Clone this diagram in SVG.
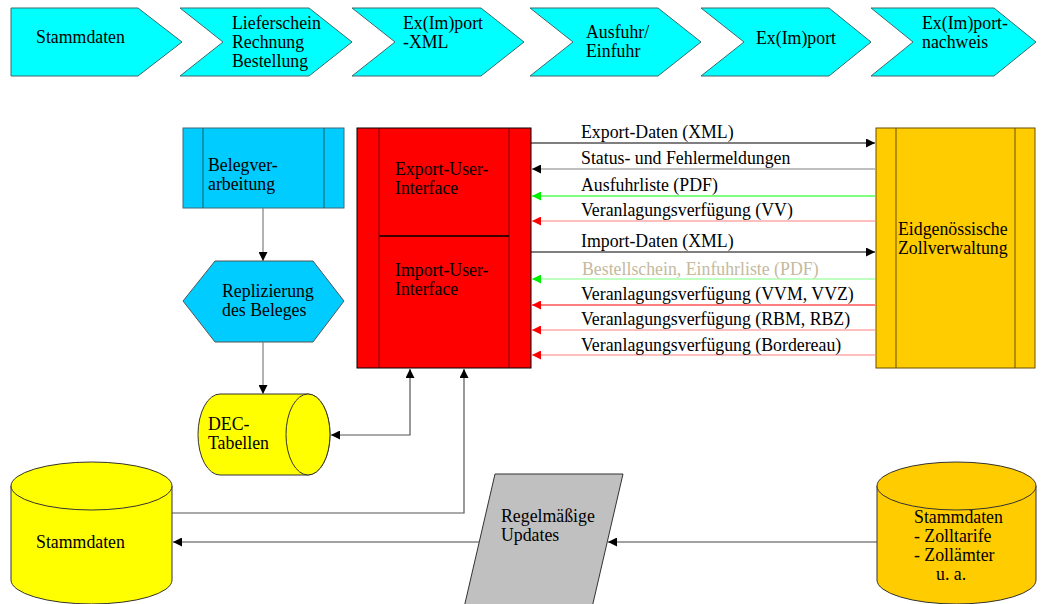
<svg xmlns="http://www.w3.org/2000/svg" width="1044" height="604" viewBox="0 0 1044 604" font-family="'Liberation Serif', 'DejaVu Serif', serif">
<style>
text{font-family:'Liberation Serif','DejaVu Serif',serif;font-size:17.8px;fill:#000}
.chev{fill:#00FFFF;stroke:#3a6a6a;stroke-width:1}
.ln{fill:none;stroke-width:1.2}
</style>
<defs>
<marker id="ab" viewBox="0 0 10 10" refX="10" refY="5" markerWidth="9" markerHeight="9" markerUnits="userSpaceOnUse" orient="auto-start-reverse"><path d="M0,0 L10,5 L0,10 Z" fill="#000"/></marker>
<marker id="ar" viewBox="0 0 10 10" refX="10" refY="5" markerWidth="9" markerHeight="9" markerUnits="userSpaceOnUse" orient="auto"><path d="M0,0 L10,5 L0,10 Z" fill="#FF0000"/></marker>
<marker id="ag" viewBox="0 0 10 10" refX="10" refY="5" markerWidth="9" markerHeight="9" markerUnits="userSpaceOnUse" orient="auto"><path d="M0,0 L10,5 L0,10 Z" fill="#00EE00"/></marker>
</defs>
<rect width="1044" height="604" fill="#fff"/>

<g id="chev1"><polygon class="chev" points="11,8 138,8 182,42 138,76 11,76"/><text x="36" y="43">Stammdaten</text></g>
<g id="chev2"><polygon class="chev" points="180,8 309,8 352,42 309,76 180,76 223,42"/><text x="232" y="29">Lieferschein</text><text x="232" y="48">Rechnung</text><text x="232" y="67">Bestellung</text></g>
<g id="chev3"><polygon class="chev" points="352,8 481,8 524,42 481,76 352,76 395,42"/><text x="403" y="29">Ex(Im)port</text><text x="403" y="48">-XML</text></g>
<g id="chev4"><polygon class="chev" points="530,8 658,8 701,42 658,76 530,76 573,42"/><text x="586" y="38">Ausfuhr/</text><text x="586" y="57">Einfuhr</text></g>
<g id="chev5"><polygon class="chev" points="701,8 829,8 871,42 829,76 701,76 744,42"/><text x="756" y="44">Ex(Im)port</text></g>
<g id="chev6"><polygon class="chev" points="871,8 994,8 1036,42 994,76 871,76 913,42"/><text x="922" y="29">Ex(Im)port-</text><text x="922" y="48">nachweis</text></g>

<g id="beleg"><rect x="183" y="128" width="161" height="80" fill="#00CCFF" stroke="#3d6a7a"/><line x1="203" y1="128" x2="203" y2="208" stroke="#1f5a6a"/><line x1="324" y1="128" x2="324" y2="208" stroke="#1f5a6a"/><text x="208" y="171">Belegver-</text><text x="208" y="190">arbeitung</text></g>

<g id="repl"><polygon points="183,301 215,261 313,261 344,301 313,342 215,342" fill="#00CCFF" stroke="#555"/><text x="222" y="297">Replizierung</text><text x="222" y="316">des Beleges</text></g>

<g id="ui"><rect x="357" y="128" width="174" height="240" fill="#FF0000" stroke="#000"/><line x1="379" y1="128" x2="379" y2="368" stroke="#7a0000"/><line x1="509" y1="128" x2="509" y2="368" stroke="#7a0000"/><line x1="379" y1="236" x2="509" y2="236" stroke="#000" stroke-width="1.3"/><text x="395" y="175">Export-User-</text><text x="395" y="194">Interface</text><text x="395" y="276">Import-User-</text><text x="395" y="295">Interface</text></g>

<g id="ezv"><rect x="876" y="128" width="159" height="240" fill="#FFCC00" stroke="#6b5000"/><line x1="896" y1="128" x2="896" y2="368" stroke="#6b5000"/><line x1="1015" y1="128" x2="1015" y2="368" stroke="#6b5000"/><text x="898" y="235">Eidgenössische</text><text x="898" y="254">Zollverwaltung</text></g>

<g id="dec"><path d="M220,394 L308,394 A22,40.5 0 0 1 308,475 L220,475 A22,40.5 0 0 1 220,394 Z" fill="#FFFF00" stroke="#333"/><ellipse cx="308" cy="434.5" rx="22" ry="40.5" fill="#FFFF00" stroke="#333"/><text x="208" y="430">DEC-</text><text x="208" y="449">Tabellen</text></g>

<g id="stamm"><path d="M11,486 L11,580 A80.5,24 0 0 0 172,580 L172,486 Z" fill="#FFFF00" stroke="#333"/><ellipse cx="91.5" cy="486" rx="80.5" ry="24" fill="#FFFF00" stroke="#333"/><text x="36" y="548">Stammdaten</text></g>

<g id="updates"><polygon points="495,474 623,474 591,612 463,612" fill="#C0C0C0" stroke="#333"/><text x="501" y="522">Regelmäßige</text><text x="501" y="541">Updates</text></g>

<g id="zstamm"><path d="M877,486 L877,580 A79.5,24 0 0 0 1036,580 L1036,486 Z" fill="#FFCC00" stroke="#333"/><ellipse cx="956.5" cy="486" rx="79.5" ry="24" fill="#FFCC00" stroke="#333"/><text x="914" y="523">Stammdaten</text><text x="914" y="542">- Zolltarife</text><text x="914" y="561">- Zollämter</text><text x="936" y="580">u. a.</text></g>

<g id="connectors">
<path class="ln" d="M263,208 L263,261" stroke="#7f7f7f" marker-end="url(#ab)"/>
<path class="ln" d="M263,342 L263,394" stroke="#7f7f7f" marker-end="url(#ab)"/>
<path class="ln" d="M410,369 L410,435 L331,435" stroke="#555" marker-start="url(#ab)" marker-end="url(#ab)"/>
<path class="ln" d="M172,513 L464,513 L464,369" stroke="#555" marker-end="url(#ab)"/>
<path class="ln" d="M479,542 L173,542" stroke="#444" marker-end="url(#ab)"/>
<path class="ln" d="M877,542 L608,542" stroke="#444" marker-end="url(#ab)"/>

<path class="ln" d="M531,143 L875,143" stroke="#000" marker-end="url(#ab)"/>
<path class="ln" d="M875,169 L532,169" stroke="#808080" marker-end="url(#ab)"/>
<path class="ln" d="M875,196 L532,196" stroke="#00FF00" marker-end="url(#ag)"/>
<path class="ln" d="M875,221 L532,221" stroke="#FF8080" marker-end="url(#ar)"/>
<path class="ln" d="M531,252 L875,252" stroke="#000" marker-end="url(#ab)"/>
<path class="ln" d="M875,279 L532,279" stroke="#80FF80" marker-end="url(#ag)"/>
<path class="ln" d="M875,305 L532,305" stroke="#FF0000" marker-end="url(#ar)"/>
<path class="ln" d="M875,330 L532,330" stroke="#FF8080" marker-end="url(#ar)"/>
<path class="ln" d="M875,355 L532,355" stroke="#FF8080" marker-end="url(#ar)"/>

<text x="581" y="138">Export-Daten (XML)</text>
<text x="581" y="164">Status- und Fehlermeldungen</text>
<text x="581" y="191">Ausfuhrliste (PDF)</text>
<text x="581" y="216">Veranlagungsverfügung (VV)</text>
<text x="581" y="247">Import-Daten (XML)</text>
<text x="582" y="275" style="fill:#C4BA9E">Bestellschein, Einfuhrliste (PDF)</text>
<text x="581" y="300">Veranlagungsverfügung (VVM, VVZ)</text>
<text x="581" y="325">Veranlagungsverfügung (RBM, RBZ)</text>
<text x="581" y="351">Veranlagungsverfügung (Bordereau)</text>
</g>
</svg>
